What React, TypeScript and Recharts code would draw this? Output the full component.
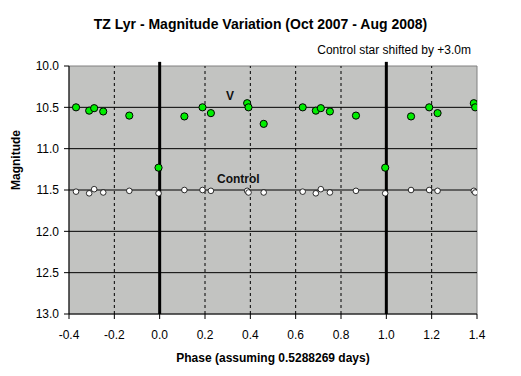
import React from "react"
import { ScatterChart, Scatter, XAxis, YAxis, ReferenceLine, ReferenceArea } from "recharts"

// phases (one cycle); the chart repeats them one period later
const phase = [-0.369, -0.311, -0.289, -0.249, -0.134, -0.005, 0.109, 0.189, 0.226, 0.386, 0.392, 0.459]
const vMag = [10.5, 10.54, 10.51, 10.55, 10.6, 11.23, 10.61, 10.5, 10.57, 10.45, 10.5, 10.7]
const controlMag = [11.52, 11.54, 11.49, 11.53, 11.51, 11.54, 11.5, 11.5, 11.51, 11.51, 11.53, 11.53]

const xTicks = [-0.4, -0.2, 0.0, 0.2, 0.4, 0.6, 0.8, 1.0, 1.2, 1.4]
const yTicks = [10.0, 10.5, 11.0, 11.5, 12.0, 12.5, 13.0]
const dashedX = [-0.2, 0.2, 0.4, 0.6, 0.8, 1.2]
const solidX = [0, 1]
const gridY = [10.5, 11.0, 11.5, 12.0, 12.5]

const fold = (mags: number[]) => {
  const pts: { x: number; y: number }[] = []
  phase.forEach((p, i) => {
    pts.push({ x: p, y: mags[i] })
    if (p + 1 <= 1.4) pts.push({ x: p + 1, y: mags[i] })
  })
  return pts
}

const vData = fold(vMag)
const controlData = fold(controlMag)

const font = "Arial, 'Liberation Sans', sans-serif"

const GreenDot = (props: any) => (
  <circle cx={props.cx} cy={props.cy} r={3.6} fill="#00ee00" stroke="#000" strokeWidth={1} />
)
const WhiteDot = (props: any) => (
  <circle cx={props.cx} cy={props.cy} r={2.8} fill="#fff" stroke="#000" strokeWidth={0.8} />
)

export default function App() {
  return (
    <div style={{ position: "absolute", left: 0, top: 0, width: 521, height: 376, background: "#fff", fontFamily: font }}>
      <div style={{ position: "absolute", left: 0, width: 521, top: 16, textAlign: "center", fontSize: 14, fontWeight: "bold", color: "#000" }}>
        TZ Lyr - Magnitude Variation (Oct 2007 - Aug 2008)
      </div>
      <div style={{ position: "absolute", right: 50, top: 43, fontSize: 12, color: "#000" }}>
        Control star shifted by +3.0m
      </div>
      <ScatterChart width={521} height={376} margin={{ top: 66, right: 44, left: 0, bottom: 0 }}>
        <ReferenceArea x1={-0.4} x2={1.4} y1={10} y2={13} fill="#c2c3c1" fillOpacity={1} stroke="#808080" />
        {gridY.map((y) => (
          <ReferenceLine key={"h" + y} y={y} stroke="#000" strokeWidth={1} />
        ))}
        {dashedX.map((x) => (
          <ReferenceLine key={"d" + x} x={x} stroke="#000" strokeWidth={1} strokeDasharray="3 3" />
        ))}
        {solidX.map((x) => (
          <ReferenceLine
            key={"s" + x}
            segment={[{ x, y: 9.95 }, { x, y: 13 }]}
            ifOverflow="visible"
            stroke="#000"
            strokeWidth={3}
          />
        ))}
        <XAxis
          type="number"
          dataKey="x"
          domain={[-0.4, 1.4]}
          ticks={xTicks}
          tickFormatter={(v: number) => v.toFixed(1)}
          allowDataOverflow
          height={62}
          stroke="#000"
          tickSize={5}
          tickMargin={11}
          tick={{ fill: "#000", fontSize: 12, fontFamily: font }}
          label={{ value: "Phase (assuming 0.5288269 days)", position: "insideBottom", offset: 14, fill: "#000", fontSize: 12, fontWeight: "bold", fontFamily: font }}
        />
        <YAxis
          type="number"
          dataKey="y"
          domain={[10, 13]}
          reversed
          ticks={yTicks}
          tickFormatter={(v: number) => v.toFixed(1)}
          width={69}
          stroke="#000"
          tickSize={5}
          tickMargin={5}
          tick={{ fill: "#000", fontSize: 12, fontFamily: font }}
          label={{ value: "Magnitude", angle: -90, position: "insideLeft", offset: 16, fill: "#000", fontSize: 12, fontWeight: "bold", fontFamily: font }}
        />
        <Scatter data={controlData} shape={WhiteDot} isAnimationActive={false} />
        <Scatter data={vData} shape={GreenDot} isAnimationActive={false} />
      </ScatterChart>
      <div style={{ position: "absolute", left: 226, top: 89, fontSize: 12, fontWeight: "bold", color: "#111" }}>V</div>
      <div style={{ position: "absolute", left: 217, top: 172, fontSize: 12, fontWeight: "bold", color: "#111" }}>Control</div>
    </div>
  )
}
